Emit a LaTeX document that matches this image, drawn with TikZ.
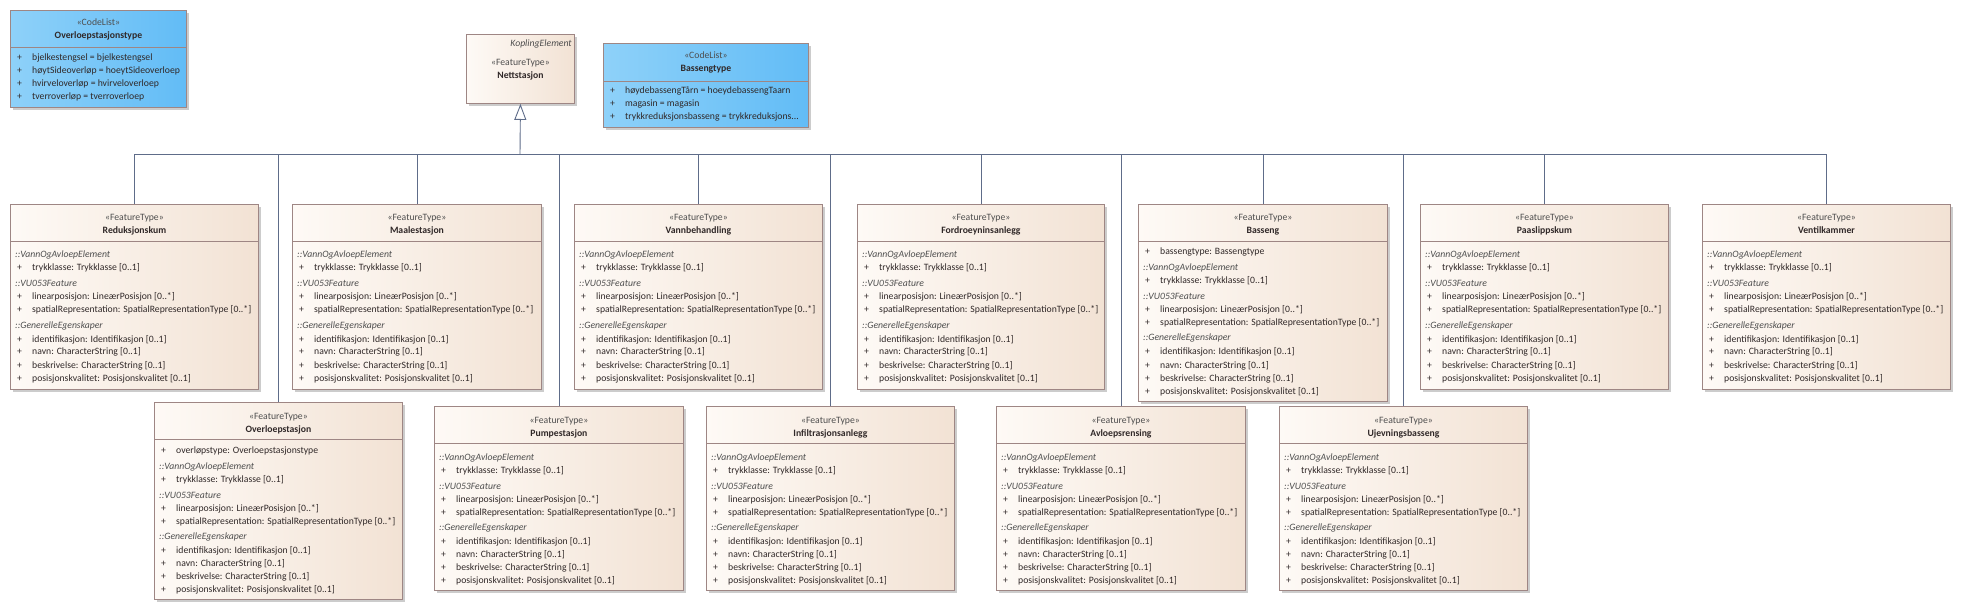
\documentclass[tikz,border=0pt]{standalone}
\usepackage{fontspec}
\setmainfont{Carlito}
\usetikzlibrary{arrows.meta,shadows}
\definecolor{ftL}{HTML}{FEFAF6}
\definecolor{ftR}{HTML}{F2E2D4}
\definecolor{cdL}{HTML}{8ED1F9}
\definecolor{cdR}{HTML}{62BCF6}
\definecolor{bord}{HTML}{9E8684}
\definecolor{linkcol}{HTML}{5E6C89}
\definecolor{shad}{HTML}{CCCCCC}
\definecolor{txt}{HTML}{302828}
\definecolor{hdr}{HTML}{4E4E4E}
\tikzset{
  box/.style={draw=bord, line width=0.9pt, rectangle, inner sep=0pt, anchor=north west,
     general shadow={fill=shad, shadow xshift=3pt, shadow yshift=-3pt}},
  ftbox/.style={box, left color=ftL, right color=ftR},
  cdbox/.style={box, left color=cdL, right color=cdR},
  sepline/.style={draw=bord, line width=0.9pt},
  lbl/.style={inner sep=0pt, font=\fontsize{9.7}{11}\selectfont, text=txt},
  stereo/.style={lbl, anchor=base, text=hdr},
  ttl/.style={lbl, anchor=base, font=\fontsize{9.7}{11}\selectfont\bfseries},
  sect/.style={lbl, anchor=base west, text=hdr, font=\fontsize{9.7}{11}\selectfont\itshape},
  attr/.style={lbl, anchor=base west},
  link/.style={draw=linkcol, line width=0.9pt},
}
\newcommand\FT[6]{%
  \node[ftbox, minimum width=#4pt, minimum height=#5pt] (#1) at (#2,#3) {};
  \draw[sepline] ([yshift=-37pt]#1.north west) -- ([yshift=-37pt]#1.north east);
  \node[stereo] (#1-st) at ([yshift=-17pt]#1.north) {«FeatureType»};
  \node[ttl] (#1-ti) at ([yshift=-30pt]#1.north) {#6};
}
\newcommand\ATR[4]{% box, id, offset, text
  \node[attr] (#1-p#2) at ([xshift=7pt, yshift={-(#3+3)*1pt}]#1.north west) {+};
  \node[attr] (#1-a#2) at ([xshift=22pt, yshift={-(#3+3)*1pt}]#1.north west) {#4};
}
\newcommand\STD[2]{%
  \foreach \dy/\kd/\tx [count=\i] in {51/s/{::VannOgAvloepElement}, 64/a/{trykklasse: Trykklasse [0..1]}, 80/s/{::VU053Feature}, 93/a/{linearposisjon: LineærPosisjon [0..*]}, 106/a/{spatialRepresentation: SpatialRepresentationType [0..*]}, 121/s/{::GenerelleEgenskaper}, 135/a/{identifikasjon: Identifikasjon [0..1]}, 148/a/{navn: CharacterString [0..1]}, 161/a/{beskrivelse: CharacterString [0..1]}, 174/a/{posisjonskvalitet: Posisjonskvalitet [0..1]}}{
    \if\kd s
      \node[sect] (#1-l\i) at ([xshift=5pt, yshift={-(\dy+#2+3)*1pt}]#1.north west) {\tx};
    \else
      \node[attr] (#1-p\i) at ([xshift=7pt, yshift={-(\dy+#2+3)*1pt}]#1.north west) {+};
      \node[attr] (#1-l\i) at ([xshift=22pt, yshift={-(\dy+#2+3)*1pt}]#1.north west) {\tx};
    \fi
  }%
}
\begin{document}
\begin{tikzpicture}[x=1pt, y=-1pt]
\fill[white] (0,0) rectangle (1961,609);
\useasboundingbox (0,0) rectangle (1961,609);

% CodeList Overloepstasjonstype
\node[cdbox, minimum width=176pt, minimum height=97pt] (olt) at (10,10) {};
\draw[sepline] ([yshift=-37pt]olt.north west) -- ([yshift=-37pt]olt.north east);
\node[stereo] (olt-st) at ([yshift=-16pt]olt.north) {«CodeList»};
\node[ttl] (olt-ti) at ([yshift=-29pt]olt.north) {Overloepstasjonstype};
\ATR{olt}{1}{48}{bjelkestengsel = bjelkestengsel}
\ATR{olt}{2}{61}{høytSideoverløp = hoeytSideoverloep}
\ATR{olt}{3}{74}{hvirveloverløp = hvirveloverloep}
\ATR{olt}{4}{87}{tverroverløp = tverroverloep}

% Nettstasjon
\node[ftbox, minimum width=108pt, minimum height=69pt] (nett) at (466,34) {};
\node[sect, anchor=base east] (nett-k) at ([xshift=-3pt, yshift=-13pt]nett.north east) {KoplingElement};
\node[stereo] (nett-st) at ([yshift=-32pt]nett.north) {«FeatureType»};
\node[ttl] (nett-ti) at ([yshift=-45pt]nett.north) {Nettstasjon};

% CodeList Bassengtype
\node[cdbox, minimum width=205pt, minimum height=84pt] (bt) at (603,43) {};
\draw[sepline] ([yshift=-38pt]bt.north west) -- ([yshift=-38pt]bt.north east);
\node[stereo] (bt-st) at ([yshift=-16pt]bt.north) {«CodeList»};
\node[ttl] (bt-ti) at ([yshift=-29pt]bt.north) {Bassengtype};
\ATR{bt}{1}{48}{høydebassengTårn = hoeydebassengTaarn}
\ATR{bt}{2}{61}{magasin = magasin}
\ATR{bt}{3}{74}{trykkreduksjonsbasseng = trykkreduksjons...}

% Row 1
\FT{reduk}{10}{204}{248}{185}{Reduksjonskum}\STD{reduk}{0}
\FT{maale}{292}{204}{249}{185}{Maalestasjon}\STD{maale}{0}
\FT{vann}{574}{204}{248}{185}{Vannbehandling}\STD{vann}{0}
\FT{fordr}{857}{204}{247}{185}{Fordroeyninsanlegg}\STD{fordr}{0}
\FT{basseng}{1138}{204}{249}{197}{Basseng}
\ATR{basseng}{0}{48}{bassengtype: Bassengtype}\STD{basseng}{13}
\FT{paas}{1420}{204}{248}{185}{Paaslippskum}\STD{paas}{0}
\FT{ventil}{1702}{204}{248}{185}{Ventilkammer}\STD{ventil}{0}

% Row 2
\FT{overl}{154}{402}{248}{197}{Overloepstasjon}
\ATR{overl}{0}{48}{overløpstype: Overloepstasjonstype}\STD{overl}{13}
\FT{pumpe}{434}{406}{249}{184}{Pumpestasjon}\STD{pumpe}{0}
\FT{infil}{706}{406}{248}{184}{Infiltrasjonsanlegg}\STD{infil}{0}
\FT{avloep}{996}{406}{249}{184}{Avloepsrensing}\STD{avloep}{0}
\FT{ujevn}{1279}{406}{248}{184}{Ujevningsbasseng}\STD{ujevn}{0}

% Generalisation tree
\coordinate (bus) at (520,154);
\foreach \n in {reduk,overl,maale,pumpe,vann,infil,fordr,avloep,basseng,ujevn,paas,ventil}
  \draw[link] (\n.north) |- (bus);
\draw[link, -{Triangle[open, length=16pt, width=12pt, fill=white]}] (bus) -- (nett.south);
\end{tikzpicture}
\end{document}
